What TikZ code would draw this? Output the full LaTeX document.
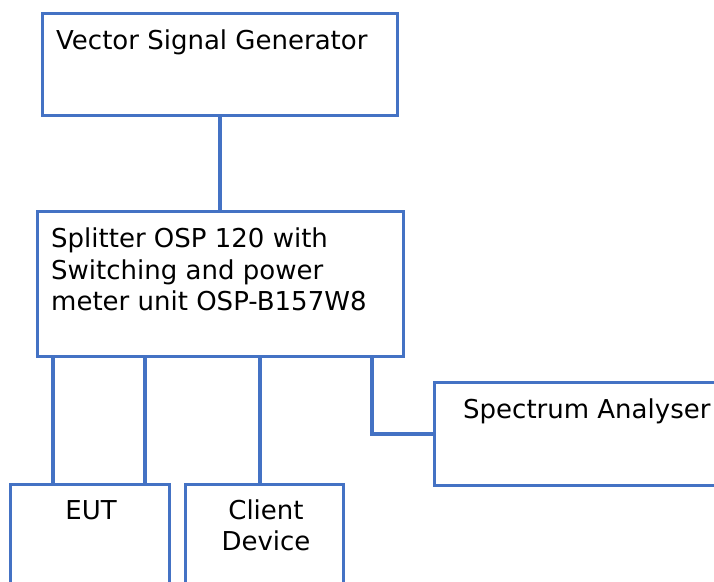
\documentclass[tikz,border=0pt]{standalone}
\usepackage{fontspec}
\setmainfont{DejaVu Sans}
\definecolor{boxblue}{HTML}{4472C4}
\begin{document}
\begin{tikzpicture}[x=1pt,y=-1pt,
  box/.style={draw=boxblue, line width=1.8pt, fill=white, inner sep=0pt, anchor=north west},
  conn/.style={draw=boxblue, line width=4.4pt},
  txt/.style={inner sep=0pt, anchor=base west, font=\fontsize{26}{31}\selectfont, text=black},
  ctxt/.style={inner sep=0pt, anchor=base, font=\fontsize{26}{31}\selectfont, text=black}]
\useasboundingbox (0,0) rectangle (714,581);
\clip (0,0) rectangle (714,581);
\fill[white] (0,0) rectangle (714,581);
% boxes
\node[box, minimum width=354pt, minimum height=101pt] (vsg) at (42,13) {};
\node[box, minimum width=365pt, minimum height=144pt] (split) at (37,211) {};
\node[box, minimum width=300pt, minimum height=102pt] (sa) at (434,382) {};
\node[box, minimum width=158pt, minimum height=120pt] (eut) at (10,484) {};
\node[box, minimum width=157pt, minimum height=120pt] (cd) at (185,484) {};
% connectors
\draw[conn] (vsg.south) -- (vsg.south |- split.north);
\draw[conn] (split.south -| 53,0) -- (eut.north -| 53,0);
\draw[conn] (split.south -| 145,0) -- (eut.north -| 145,0);
\draw[conn] (split.south -| 260,0) -- (cd.north -| 260,0);
\draw[conn] (split.south -| 372,0) |- (sa.west);
% box borders on top
\draw[boxblue, line width=1.8pt] (vsg.north west) rectangle (vsg.south east);
\draw[boxblue, line width=1.8pt] (split.north west) rectangle (split.south east);
\draw[boxblue, line width=1.8pt] (sa.north west) rectangle (sa.south east);
\draw[boxblue, line width=1.8pt] (eut.north west) rectangle (eut.south east);
\draw[boxblue, line width=1.8pt] (cd.north west) rectangle (cd.south east);
% texts
\node[txt] (t1) at (56,49) {Vector Signal Generator};
\node[txt] (t2) at (51,247) {Splitter OSP 120 with};
\node[txt] (t3) at (51,279) {Switching and power};
\node[txt] (t4) at (51,310) {meter unit OSP-B157W8};
\node[txt] (t5) at (463,418) {Spectrum Analyser};
\node[ctxt] (t6) at (91,519) {EUT};
\node[ctxt] (t7) at (266,519) {Client};
\node[ctxt] (t8) at (266,550) {Device};
\end{tikzpicture}
\end{document}
